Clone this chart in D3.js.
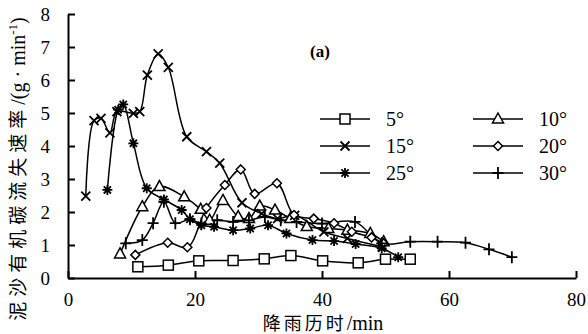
<!DOCTYPE html>
<html>
<head>
<meta charset="utf-8">
<script src="https://cdn.jsdelivr.net/npm/d3@7"></script>
<style>
  html, body { margin: 0; padding: 0; background: #fff; }
  svg { display: block; }
  .serif { font-family: "Liberation Serif", "DejaVu Serif", "Times New Roman", Times, serif; }
  .cjk { font-family: "Noto Sans CJK SC", sans-serif; }
</style>
</head>
<body>
<svg id="chart"></svg>
<script>
// 降雨历时 (min) / 泥沙有机碳流失速率 (g·min-1)
const t5 = [11.0, 15.8, 20.6, 26.0, 30.9, 35.1, 40.1, 45.7, 50.0, 53.9];
const v5 = [0.34, 0.39, 0.52, 0.53, 0.58, 0.68, 0.52, 0.46, 0.57, 0.57];

const t10 = [8.2, 11.7, 14.4, 18.3, 20.9, 22.3, 24.4, 26.8, 28.5, 30.2, 32.6, 35.0, 37.6, 41.0, 44.0, 47.6, 49.7];
const v10 = [0.73, 2.16, 2.77, 2.46, 2.08, 1.75, 2.35, 1.86, 1.8, 2.18, 2.06, 1.8, 1.56, 1.5, 1.45, 1.35, 1.1];

const t15 = [2.8, 4.1, 5.2, 6.6, 7.7, 10.3, 11.3, 12.5, 14.2, 15.8, 18.7, 21.8, 23.9, 27.4, 30.5, 33.0, 35.7, 40.3, 44.0, 49.5];
const v15 = [2.48, 4.77, 4.84, 4.4, 5.04, 4.99, 5.04, 6.15, 6.79, 6.38, 4.28, 3.83, 3.48, 2.28, 1.95, 1.8, 1.9, 1.4, 1.2, 0.95];

const t20 = [10.6, 15.7, 18.8, 21.8, 24.7, 27.2, 29.4, 32.9, 35.6, 38.7, 41.9, 44.7, 47.8, 49.7];
const v20 = [0.7, 1.07, 0.93, 2.12, 2.82, 3.29, 2.55, 2.87, 1.91, 1.8, 1.66, 1.4, 1.23, 1.05];

const t25 = [6.2, 7.9, 8.7, 10.3, 12.4, 15.1, 17.9, 19.2, 21.0, 23.0, 26.0, 28.7, 31.5, 34.4, 38.5, 41.9, 45.3, 49.4, 52.0];
const v25 = [2.67, 5.1, 5.26, 4.08, 2.72, 2.38, 2.06, 1.78, 1.6, 1.55, 1.45, 1.5, 1.6, 1.35, 1.15, 1.12, 1.03, 0.9, 0.63];

const t30 = [9.1, 11.7, 13.4, 15.1, 16.9, 19.2, 21.0, 23.5, 26.0, 28.5, 31.0, 33.5, 36.0, 40.0, 45.2, 49.4, 53.9, 58.2, 62.6, 66.3, 69.9];
const v30 = [1.05, 1.15, 1.66, 2.31, 1.66, 1.78, 1.65, 1.75, 1.7, 1.75, 1.85, 1.75, 1.7, 1.65, 1.7, 1.05, 1.1, 1.1, 1.07, 0.87, 0.63];

const seriesNames = ['5°', '10°', '15°', '20°', '25°', '30°'];
const seriesMarkers = ['square', 'triangle', 'cross', 'diamond', 'star', 'plus'];
const xTicks = [0, 20, 40, 60, 80];
const yTicks = [0, 1, 2, 3, 4, 5, 6, 7, 8];

const series = [
  { name: seriesNames[0], marker: seriesMarkers[0], t: t5, v: v5 },
  { name: seriesNames[1], marker: seriesMarkers[1], t: t10, v: v10 },
  { name: seriesNames[2], marker: seriesMarkers[2], t: t15, v: v15 },
  { name: seriesNames[3], marker: seriesMarkers[3], t: t20, v: v20 },
  { name: seriesNames[4], marker: seriesMarkers[4], t: t25, v: v25 },
  { name: seriesNames[5], marker: seriesMarkers[5], t: t30, v: v30 },
];

const width = 588;
const height = 334;
const marginLeft = 68;
const marginRight = 12;
const marginTop = 14;
const marginBottom = 56;
const serifFont = '"Liberation Serif", "DejaVu Serif", "Times New Roman", Times, serif';

const svg = d3.select('#chart').attr('width', width).attr('height', height).attr('viewBox', [0, 0, width, height]);

const x_scale = d3.scaleLinear([0, 80], [marginLeft, width - marginRight]);
const y_scale = d3.scaleLinear([0, 8], [height - marginBottom, marginTop]);

// 标记
function drawMarker(g, type) {
  const sw = 1.5;
  if (type === 'square') {
    g.append('rect').attr('x', -5).attr('y', -5).attr('width', 10).attr('height', 10)
      .attr('fill', '#fff').attr('stroke', '#000').attr('stroke-width', sw);
  } else if (type === 'triangle') {
    g.append('path').attr('d', 'M0,-6L5.5,4L-5.5,4Z')
      .attr('fill', '#fff').attr('stroke', '#000').attr('stroke-width', sw);
  } else if (type === 'diamond') {
    g.append('path').attr('d', 'M0,-4.5L4.5,0L0,4.5L-4.5,0Z')
      .attr('fill', '#fff').attr('stroke', '#000').attr('stroke-width', sw);
  } else if (type === 'cross') {
    g.append('path').attr('d', 'M-4.5,-4.5L4.5,4.5M-4.5,4.5L4.5,-4.5')
      .attr('stroke', '#000').attr('stroke-width', 1.8);
  } else if (type === 'star') {
    g.append('path').attr('d', 'M0,-5L0,5M-5,0L5,0M-3.6,-3.6L3.6,3.6M-3.6,3.6L3.6,-3.6')
      .attr('stroke', '#000').attr('stroke-width', 1.8);
  } else if (type === 'plus') {
    g.append('path').attr('d', 'M0,-6L0,6M-5.5,0L5.5,0')
      .attr('stroke', '#000').attr('stroke-width', 1.8);
  }
}

/**
 * 坐标轴
 */
const x_axis = d3.axisBottom(x_scale).tickValues(xTicks).tickSizeInner(-7).tickSizeOuter(0).tickPadding(15);
svg.append('g')
  .attr('transform', `translate(0,${height - marginBottom})`)
  .call(x_axis)
  .attr('font-family', serifFont).attr('font-size', 19)
  .call((g) => g.select('.domain').attr('stroke-width', 2))
  .call((g) => g.selectAll('.tick line').attr('stroke-width', 2))
  .call((g) => g.selectAll('.tick text').attr('fill', '#000').style('font-family', serifFont));

const y_axis = d3.axisLeft(y_scale).tickValues(yTicks).tickSizeInner(-7).tickSizeOuter(0).tickPadding(18);
svg.append('g')
  .attr('transform', `translate(${marginLeft},0)`)
  .call(y_axis)
  .attr('font-family', serifFont).attr('font-size', 19)
  .call((g) => g.select('.domain').attr('stroke-width', 2))
  .call((g) => g.selectAll('.tick line').attr('stroke-width', 2))
  .call((g) => g.selectAll('.tick text').attr('fill', '#000').style('font-family', serifFont));

/**
 * 线与标记
 */
const line = d3.line()
  .curve(d3.curveCatmullRom.alpha(0.5))
  .x((d) => x_scale(d[0]))
  .y((d) => y_scale(d[1]));

const plot = svg.append('g');
series.forEach((s) => {
  const pts = s.t.map((t, i) => [t, s.v[i]]);
  plot.append('path')
    .attr('d', line(pts))
    .attr('fill', 'none')
    .attr('stroke', '#000')
    .attr('stroke-width', 1.5)
    .attr('stroke-linejoin', 'round');
});
series.forEach((s) => {
  s.t.forEach((t, i) => {
    const g = plot.append('g').attr('transform', `translate(${x_scale(t)},${y_scale(s.v[i])})`);
    drawMarker(g, s.marker);
  });
});

/**
 * 图例
 */
const legendRows = [119, 146, 173];
const legendCols = [320, 473];
series.forEach((s, i) => {
  const lx = legendCols[i % 2];
  const ly = legendRows[Math.floor(i / 2)];
  const g = svg.append('g').attr('transform', `translate(${lx},${ly})`);
  g.append('line').attr('x1', 0).attr('x2', 50).attr('y1', 0).attr('y2', 0)
    .attr('stroke', '#000').attr('stroke-width', 1.5);
  const m = g.append('g').attr('transform', 'translate(25,0)');
  drawMarker(m, s.marker);
  g.append('text')
    .style('font-family', serifFont)
    .attr('x', 66).attr('y', 7)
    .attr('font-size', 20)
    .text(s.name);
});

svg.append('text')
  .style('font-family', serifFont)
  .attr('x', 310).attr('y', 57)
  .attr('font-size', 17).attr('font-weight', 'bold')
  .text('(a)');

/**
 * 轴标题
 */
const xTitle = svg.append('text')
  .attr('x', 323).attr('y', 330)
  .attr('text-anchor', 'middle');
xTitle.append('tspan').attr('class', 'cjk').attr('font-size', 18).attr('letter-spacing', 3).text('降雨历时');
xTitle.append('tspan').style('font-family', serifFont).attr('font-size', 20).text('/min');

const yTitle = svg.append('text')
  .attr('transform', 'translate(25,169) rotate(-90)')
  .attr('text-anchor', 'middle');
yTitle.append('tspan').attr('class', 'cjk').attr('font-size', 19).attr('letter-spacing', 5).text('泥沙有机碳流失速率');
yTitle.append('tspan').style('font-family', serifFont).attr('font-size', 20).text('/(g · min');
yTitle.append('tspan').style('font-family', serifFont).attr('font-size', 13).attr('dy', -8).text('-1');
yTitle.append('tspan').style('font-family', serifFont).attr('font-size', 20).attr('dy', 8).text(')');
</script>
</body>
</html>
